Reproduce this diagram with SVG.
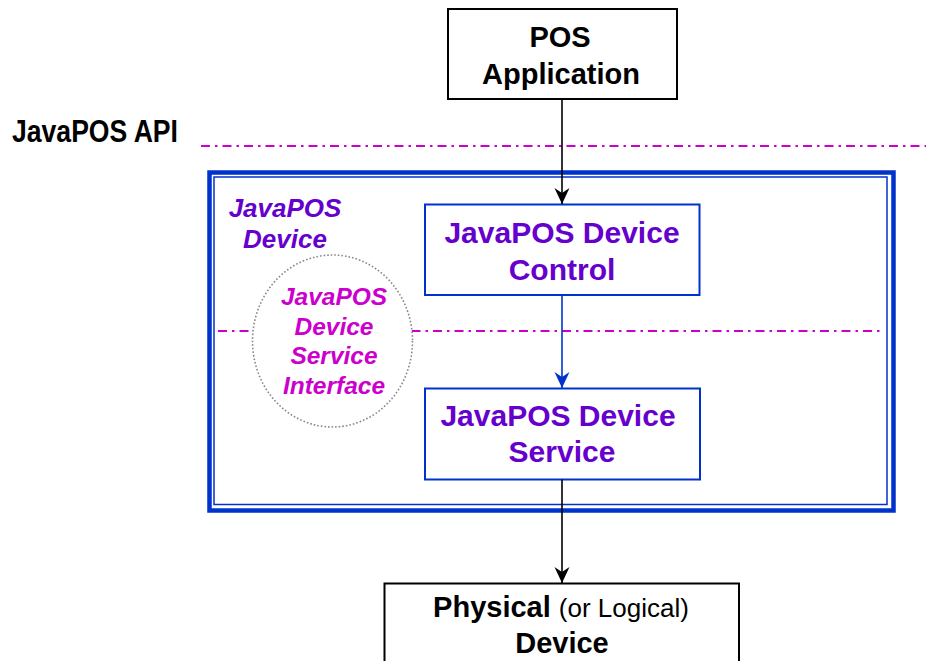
<svg xmlns="http://www.w3.org/2000/svg" width="926" height="661" viewBox="0 0 926 661">
<style>
.b{font-family:"Liberation Sans",Arial,sans-serif;font-weight:bold}
.r{font-family:"Liberation Sans",Arial,sans-serif}
.blk{fill:#000}
.pur{fill:#6600CC}
.mag{fill:#CC00CC}
.it{font-style:italic}
.dd{stroke:#CC00CC;stroke-width:2;fill:none;stroke-dasharray:9 5 2.5 5}
.box{fill:#fff;stroke:#000;stroke-width:2}
.bbox{fill:#fff;stroke:#0033CC;stroke-width:2}
</style>
<defs>
<marker id="ak" viewBox="-17 -8 18 16" refX="0" refY="0" markerWidth="18" markerHeight="16" markerUnits="userSpaceOnUse" orient="auto">
<path d="M0,0 L-16,-7.5 L-11,0 L-16,7.5 z" fill="#000"/>
</marker>
<marker id="ab" viewBox="-17 -8 18 16" refX="0" refY="0" markerWidth="18" markerHeight="16" markerUnits="userSpaceOnUse" orient="auto">
<path d="M0,0 L-16,-7.5 L-11,0 L-16,7.5 z" fill="#0033CC"/>
</marker>
</defs>
<rect width="926" height="661" fill="#fff"/>

<g id="api-label">
<text x="12" y="142" class="b blk" font-size="31" textLength="166" lengthAdjust="spacingAndGlyphs">JavaPOS API</text>
</g>
<g id="api-line">
<line x1="201" y1="146" x2="926" y2="146" class="dd"/>
</g>

<g id="javapos-device">
<rect x="209.5" y="172.5" width="684" height="338" fill="#fff" stroke="#0033CC" stroke-width="4.5"/>
<rect x="214" y="177" width="673" height="327.5" fill="none" stroke="#0033CC" stroke-width="1.5"/>
<text class="b it pur" font-size="26" text-anchor="middle"><tspan x="285" y="217">JavaPOS</tspan><tspan x="285" y="248">Device</tspan></text>
</g>

<g id="dsi-line">
<line x1="218" y1="331" x2="880" y2="331" class="dd"/>
</g>

<g id="dsi">
<ellipse cx="332.5" cy="341" rx="80" ry="86" fill="#fff" stroke="#888" stroke-width="1.6" stroke-dasharray="1.6 2"/>
<text class="b it mag" font-size="24.5" text-anchor="middle"><tspan x="334" y="305">JavaPOS</tspan><tspan x="334" y="335">Device</tspan><tspan x="334" y="364">Service</tspan><tspan x="334" y="394">Interface</tspan></text>
</g>

<g id="pos-app">
<rect x="448" y="9" width="229" height="90" class="box"/>
<text class="b blk" font-size="29" text-anchor="middle"><tspan x="560" y="47">POS</tspan><tspan x="561" y="84">Application</tspan></text>
</g>

<g id="device-control">
<rect x="425" y="204.5" width="274.5" height="90.5" class="bbox"/>
<text class="b pur" font-size="30" text-anchor="middle"><tspan x="562" y="243">JavaPOS Device</tspan><tspan x="562" y="280">Control</tspan></text>
</g>

<g id="device-service">
<rect x="425" y="388.5" width="275" height="91" class="bbox"/>
<text class="b pur" font-size="30" text-anchor="middle"><tspan x="558" y="426">JavaPOS Device</tspan><tspan x="562" y="462">Service</tspan></text>
</g>

<g id="physical-device">
<rect x="384.5" y="583.5" width="354.5" height="90" class="box"/>
<text text-anchor="middle" y="617"><tspan x="561" class="b blk" font-size="29">Physical </tspan><tspan class="r blk" font-size="26">(or Logical)</tspan></text>
<text x="562" y="653" class="b blk" font-size="29" text-anchor="middle">Device</text>
</g>

<g id="connectors">
<line x1="562" y1="99" x2="562" y2="204" stroke="#000" stroke-width="1.6" marker-end="url(#ak)"/>
<line x1="562" y1="295" x2="562" y2="388" stroke="#0033CC" stroke-width="1.6" marker-end="url(#ab)"/>
<line x1="562" y1="479.5" x2="562" y2="583" stroke="#000" stroke-width="1.6" marker-end="url(#ak)"/>
</g>
</svg>
